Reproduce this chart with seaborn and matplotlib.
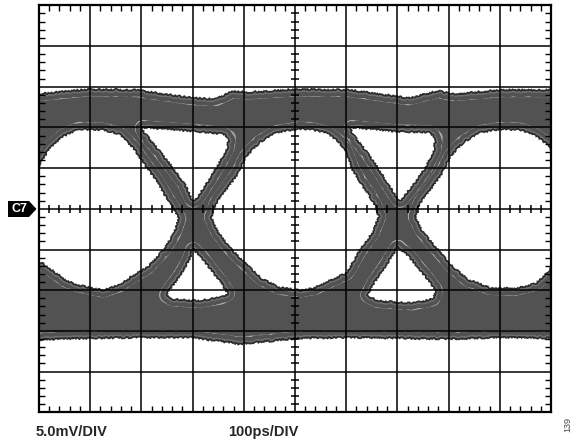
import matplotlib
matplotlib.use("Agg")
import numpy as np
import seaborn as sns
import matplotlib.pyplot as plt
from matplotlib.patches import Polygon
from matplotlib.ticker import MultipleLocator

# --- eye diagram outline (time in ps, level in mV) ---
rail_t = [0, 98, 190, 301, 346, 379, 406, 504, 607, 666, 721, 779, 807, 904, 1000]
rail_top_mv = [14.2, 14.8, 14.7, 13.7, 13.6, 14.6, 14.4, 14.8, 14.7, 14.2, 13.7, 14.6, 14.2, 14.7, 14.7]

base_t = [0, 100, 197, 295, 393, 510, 607, 705, 803, 900, 1000]
base_bottom_mv = [-16.2, -16.0, -15.9, -15.9, -16.7, -16.0, -15.9, -16.0, -16.1, -15.9, -16.0]

# white openings inside the trace band
left_eye_t = [0, 20, 47, 78, 125, 156, 182, 203, 227, 248, 272, 262, 242, 211, 178, 156, 125, 78, 53, 27, 8, 0]
left_eye_mv = [5.1, 7.2, 8.8, 9.7, 9.6, 9.1, 7.5, 5.6, 3.5, 1.3, -1.2, -3.0, -5.0, -7.1, -8.3, -9.3, -9.9,
               -9.3, -8.7, -7.5, -6.6, -6.5]

mid_eye_t = [338, 348, 367, 389, 406, 432, 465, 504, 529, 562, 584, 598, 611, 631, 643, 656, 662, 650, 625,
             600, 568, 539, 510, 471, 436, 402, 375, 350]
mid_eye_mv = [-1.0, 0.7, 2.3, 4.2, 6.4, 8.1, 9.3, 9.7, 9.7, 9.2, 8.2, 6.9, 4.8, 2.7, 1.7, 0.2, -1.0, -2.9,
              -5.1, -7.8, -8.7, -9.6, -9.9, -9.6, -8.5, -6.5, -4.8, -2.7]

right_eye_t = [736, 746, 766, 787, 805, 830, 863, 902, 940, 969, 994, 1000, 1000, 990, 969, 930, 881, 838,
               807, 779, 750]
right_eye_mv = [-0.9, 0.7, 2.3, 4.2, 6.4, 8.1, 9.3, 9.7, 9.6, 8.9, 7.8, 6.6, -7.1, -7.9, -9.1, -9.7, -9.6,
                -8.6, -6.9, -4.9, -2.7]

up_tri1_t = [203, 242, 309, 359, 369, 367, 354, 334, 309, 301, 285, 262, 236, 207]
up_tri1_mv = [9.9, 9.7, 9.4, 9.1, 8.7, 7.6, 6.0, 3.9, 1.5, 1.1, 3.2, 5.1, 7.2, 9.4]
up_tri2_t = [611, 695, 760, 773, 770, 754, 729, 705, 695, 670, 643, 613]
up_tri2_mv = [9.9, 9.4, 9.3, 8.7, 7.2, 5.1, 2.9, 1.1, 1.9, 4.4, 6.9, 9.3]

lo_tri1_t = [301, 295, 275, 256, 250, 262, 309, 354, 367, 354, 334, 315]
lo_tri1_mv = [-5.1, -6.3, -8.4, -10.0, -10.6, -11.0, -11.2, -10.8, -10.4, -9.1, -7.5, -5.9]
lo_tri2_t = [701, 682, 656, 643, 662, 729, 768, 773, 754, 721]
lo_tri2_mv = [-4.8, -6.7, -9.1, -10.6, -11.2, -11.5, -11.0, -10.0, -8.4, -5.9]

openings = [(left_eye_t, left_eye_mv), (mid_eye_t, mid_eye_mv), (right_eye_t, right_eye_mv),
            (up_tri1_t, up_tri1_mv), (up_tri2_t, up_tri2_mv),
            (lo_tri1_t, lo_tri1_mv), (lo_tri2_t, lo_tri2_mv)]

BAND = "#525252"
# (linewidth in pt, colour): wide strokes first so the edge shading builds up in rings
rings = [(11.5, "#a9a9a9"), (10.0, BAND), (4.6, "#6e6e6e"), (2.4, "#2c2c2c")]
ROUGH = (1.0, 3.0, 4.0)  # sketch params give the ragged persistence edge

sns.set_style("white")
plt.rcParams["font.family"] = ["Liberation Sans", "DejaVu Sans"]

fig = plt.figure(figsize=(5.81, 4.46), dpi=100)
ax = fig.add_axes([39 / 581, 1 - 412.3 / 446, 512 / 581, 407 / 446])

# gray trace envelope
ax.fill(rail_t + base_t[::-1], rail_top_mv + base_bottom_mv[::-1], color=BAND, lw=0, zorder=1.0)

for i, (w, c) in enumerate(rings):
    z = 1.1 + 0.1 * i
    lines = []
    sns.lineplot(x=rail_t, y=rail_top_mv, ax=ax, lw=w, color=c, sort=False, estimator=None, zorder=z)
    sns.lineplot(x=base_t, y=base_bottom_mv, ax=ax, lw=w, color=c, sort=False, estimator=None, zorder=z)
    lines += ax.lines[-2:]
    for t, mv in openings:
        lines += ax.plot(t + t[:1], mv + mv[:1], lw=w, color=c, solid_joinstyle="round", zorder=z)
    if i > 0:
        for ln in lines:
            ln.set_sketch_params(*ROUGH)

# blank out everything outside the band
blanks = []
blanks += ax.fill(rail_t + [1000, 0], rail_top_mv + [30, 30], color="white", lw=0, zorder=1.8)
blanks += ax.fill(base_t + [1000, 0], base_bottom_mv + [-30, -30], color="white", lw=0, zorder=1.8)
for t, mv in openings:
    blanks += ax.fill(t, mv, color="white", lw=0, zorder=1.8)
for p in blanks:
    p.set_sketch_params(0.8, 3.0, 4.0)

# scope graticule
ax.set_xlim(0, 1000)
ax.set_ylim(-25, 25)
ax.xaxis.set_major_locator(MultipleLocator(100))
ax.xaxis.set_minor_locator(MultipleLocator(20))
ax.yaxis.set_major_locator(MultipleLocator(5))
ax.yaxis.set_minor_locator(MultipleLocator(1))
ax.set_axisbelow(False)
ax.grid(True, which="major", color="black", lw=1.1)
ax.tick_params(which="major", length=0, labelbottom=False, labelleft=False)
ax.tick_params(which="minor", direction="in", length=4, width=1.0, color="black",
               bottom=True, top=True, left=True, right=True)
for s in ax.spines.values():
    s.set_visible(True)
    s.set_color("black")
    s.set_linewidth(1.6)
ax.set_xlabel("")
ax.set_ylabel("")

xs = ax.xaxis.get_minorticklocs()
ys = ax.yaxis.get_minorticklocs()
ax.plot(xs, np.zeros_like(xs), ls="none", marker="|", ms=6, mew=1.1, color="black", zorder=3)
ax.plot(np.full_like(ys, 500.0), ys, ls="none", marker="_", ms=6, mew=1.1, color="black", zorder=3)

# channel marker
W, H = 581, 446
marker = [(8, 201), (29, 201), (36.5, 209), (29, 217), (8, 217)]
fig.patches.append(Polygon([(x / W, 1 - y / H) for x, y in marker], closed=True,
                           transform=fig.transFigure, fc="black", ec="none"))
fig.text(19.5 / W, 1 - 209.5 / H, "C7", color="white", fontsize=9, fontweight="bold",
         ha="center", va="center")

fig.text(36 / W, 1 - 432 / H, "5.0mV/DIV", fontsize=10.5, fontweight="bold", ha="left", va="center")
fig.text(228 / W, 1 - 432 / H, "100ps/DIV", fontsize=10.5, fontweight="bold", ha="left", va="center")
fig.text(568 / W, 1 - 425 / H, "139", rotation=90, fontsize=6.5, color="#444444",
         ha="center", va="center")

fig.savefig("out.png", dpi=100)
